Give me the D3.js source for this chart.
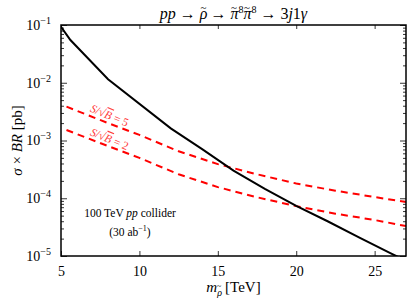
<!DOCTYPE html>
<html>
<head>
<meta charset="utf-8">
<script src="https://cdn.jsdelivr.net/npm/d3@7"></script>
<style>
  body { margin: 0; background: #fff; }
  text { font-family: "Liberation Serif", "DejaVu Serif", serif !important; }
</style>
</head>
<body>
<svg id="chart" width="415" height="304"></svg>
<script>
// data
var massBlack = [5, 5.6, 8, 12, 14, 16, 18, 20, 22, 24, 26, 27];
var sigmaBlack = [0.093, 0.055, 0.0115, 1.62e-3, 7.1e-4, 3.0e-4, 1.45e-4, 7.4e-5, 4.0e-5, 2.1e-5, 1.12e-5, 8.3e-6];

var massRed = [5.35, 8, 10, 12.5, 15, 17.5, 20, 22.5, 25, 27];
var sig5 = [3.85e-3, 2.0e-3, 1.25e-3, 6.5e-4, 3.9e-4, 2.6e-4, 1.8e-4, 1.35e-4, 1.05e-4, 8.6e-5];
var sig2 = [1.52e-3, 8.0e-4, 5.0e-4, 2.6e-4, 1.56e-4, 1.04e-4, 7.3e-5, 5.4e-5, 4.2e-5, 3.3e-5];

var xTicks = [5, 10, 15, 20, 25];
var yTicks = [1e-5, 1e-4, 1e-3, 1e-2, 1e-1];
var yExp = ["\u22125", "\u22124", "\u22123", "\u22122", "\u22121"];

var margin = { left: 61, top: 25, right: 9, bottom: 48 };
var W = 415, H = 304;
var svg = d3.select("#chart");

var x = d3.scaleLinear().domain([5, 27]).range([margin.left, W - margin.right]);
var y = d3.scaleLog().domain([1e-5, 1e-1]).range([H - margin.bottom, margin.top]);

svg.append("defs").append("clipPath").attr("id", "clip")
  .append("rect")
  .attr("x", margin.left).attr("y", margin.top)
  .attr("width", x.range()[1] - margin.left)
  .attr("height", y.range()[0] - margin.top);

// minor y ticks
var minor = y.ticks().filter(v => yTicks.indexOf(v) < 0);
svg.append("g").attr("transform", `translate(${margin.left},0)`)
  .call(d3.axisLeft(y).tickValues(minor).tickSize(-3).tickFormat(""))
  .call(g => g.select(".domain").remove());
svg.append("g").attr("transform", `translate(${x.range()[1]},0)`)
  .call(d3.axisRight(y).tickValues(minor).tickSize(-3).tickFormat(""))
  .call(g => g.select(".domain").remove());

// major y ticks
var yAxis = svg.append("g").attr("transform", `translate(${margin.left},0)`)
  .call(d3.axisLeft(y).tickValues(yTicks).tickSize(-6).tickPadding(10).tickFormat(""))
  .call(g => g.select(".domain").remove());
yAxis.selectAll(".tick text")
  .attr("font-size", 14).attr("fill", "#000")
  .each(function (d, i) {
    var t = d3.select(this);
    t.append("tspan").text("10");
    t.append("tspan").attr("dy", -6).attr("font-size", 10).text(yExp[i]);
  });
svg.append("g").attr("transform", `translate(${x.range()[1]},0)`)
  .call(d3.axisRight(y).tickValues(yTicks).tickSize(-6).tickFormat(""))
  .call(g => g.select(".domain").remove());

// x axis
svg.append("g").attr("transform", `translate(0,${y.range()[0]})`)
  .call(d3.axisBottom(x).tickValues(xTicks).tickSize(-5).tickPadding(10).tickFormat(d3.format("d")))
  .call(g => g.select(".domain").remove())
  .call(g => g.selectAll("text").attr("font-size", 14));
svg.append("g").attr("transform", `translate(0,${margin.top})`)
  .call(d3.axisTop(x).tickValues(xTicks).tickSize(-4).tickFormat(""))
  .call(g => g.select(".domain").remove());

svg.selectAll(".tick line").attr("stroke", "#000").attr("stroke-width", 0.8);

// curves
var line = d3.line().x(d => x(d[0])).y(d => y(d[1]));
var plot = svg.append("g").attr("clip-path", "url(#clip)");
plot.append("path").datum(massRed.map((m, i) => [m, sig5[i]]))
  .attr("d", line).attr("fill", "none").attr("stroke", "#ff0000")
  .attr("stroke-width", 2).attr("stroke-dasharray", "7,5");
plot.append("path").datum(massRed.map((m, i) => [m, sig2[i]]))
  .attr("d", line).attr("fill", "none").attr("stroke", "#ff0000")
  .attr("stroke-width", 2).attr("stroke-dasharray", "7,5");
plot.append("path").datum(massBlack.map((m, i) => [m, sigmaBlack[i]]))
  .attr("d", line).attr("fill", "none").attr("stroke", "#000")
  .attr("stroke-width", 2);

// frame
svg.append("rect")
  .attr("x", margin.left).attr("y", margin.top)
  .attr("width", x.range()[1] - margin.left)
  .attr("height", y.range()[0] - margin.top)
  .attr("fill", "none").attr("stroke", "#000").attr("stroke-width", 1.5);

// labels for the significance curves
function sigLabel(xv, yv, n) {
  var t = svg.append("text")
    .attr("transform", `translate(${x(xv)},${y(yv)}) rotate(22.5)`)
    .attr("text-anchor", "middle").attr("font-size", 11.5)
    .attr("fill", "#ff3838");
  t.append("tspan").attr("font-style", "italic").text("S");
  t.append("tspan").text("/\u221A");
  t.append("tspan").attr("font-style", "italic").attr("text-decoration", "overline").text("B");
  t.append("tspan").text(" = " + n);
}
sigLabel(8.0, 2.35e-3, 5);
sigLabel(8.0, 9.2e-4, 2);

// collider note
var note = svg.append("g").attr("font-size", 11.5).attr("text-anchor", "middle");
var n1 = note.append("text").attr("x", x(9.4)).attr("y", 217);
n1.append("tspan").text("100 TeV ");
n1.append("tspan").attr("font-style", "italic").text("pp");
n1.append("tspan").text(" collider");
var n2 = note.append("text").attr("x", x(9.4)).attr("y", 236);
n2.append("tspan").text("(30 ab");
n2.append("tspan").attr("dy", -5).attr("font-size", 8).text("\u22121");
n2.append("tspan").attr("dy", 5).text(")");

// title: segments [text, italic, fontSize, dx, dy]
var titleParts = [
  ["pp", 1, 16, 0, 0],
  [" \u2192 ", 0, 16, 0, 0],
  ["\u03C1", 1, 16, 0, 0],
  ["~", 0, 11, -7, -8],
  [" \u2192 ", 0, 16, 0, 8],
  ["\u03C0", 1, 16, 0, 0],
  ["~", 0, 11, -7.5, -8],
  ["8", 0, 10, 1.5, 2],
  ["\u03C0", 1, 16, 0, 6],
  ["~", 0, 11, -7.5, -8],
  ["8", 0, 10, 1.5, 2],
  [" \u2192 3", 0, 16, 0, 6],
  ["j", 1, 16, 0, 0],
  ["1", 0, 16, 0, 0],
  ["\u03B3", 1, 16, 0, 0]
];
var title = svg.append("text").attr("x", (margin.left + x.range()[1]) / 2).attr("y", 19)
  .attr("text-anchor", "middle").attr("font-size", 16);
titleParts.forEach(p => {
  title.append("tspan")
    .attr("font-style", p[1] ? "italic" : "normal")
    .attr("font-size", p[2]).attr("dx", p[3]).attr("dy", p[4])
    .text(p[0]);
});

// x label
var xl = svg.append("text").attr("x", (margin.left + x.range()[1]) / 2).attr("y", 292)
  .attr("text-anchor", "middle").attr("font-size", 15);
xl.append("tspan").attr("font-style", "italic").text("m");
xl.append("tspan").attr("dy", 4).attr("font-size", 10).attr("font-style", "italic").text("\u03C1");
xl.append("tspan").attr("dx", -5).attr("dy", -7).attr("font-size", 8).text("~");
xl.append("tspan").attr("dy", 3).text(" [TeV]");

// y label
var yl = svg.append("text")
  .attr("transform", `translate(22,${(margin.top + y.range()[0]) / 2}) rotate(-90)`)
  .attr("text-anchor", "middle").attr("font-size", 15);
yl.append("tspan").attr("font-style", "italic").text("\u03C3");
yl.append("tspan").text(" \u00D7 ");
yl.append("tspan").attr("font-style", "italic").text("BR");
yl.append("tspan").text(" [pb]");
</script>
</body>
</html>
